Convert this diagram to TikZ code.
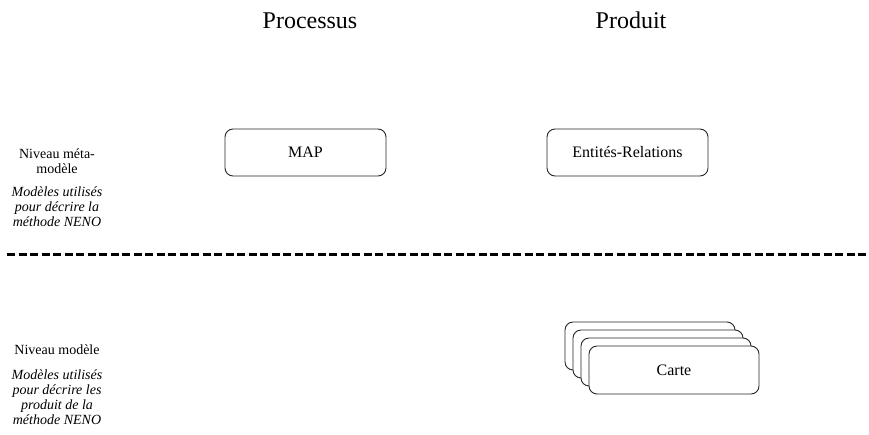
\documentclass[tikz,border=0pt]{standalone}
\usepackage{fontspec}
\setmainfont{Liberation Serif}
\begin{document}
\begin{tikzpicture}[x=1pt,y=-1pt,
  rbox/.style={draw=black!85, line width=0.9pt, rounded corners=8pt, fill=white,
    minimum width=161pt, minimum height=47pt, inner sep=0pt, font=\fontsize{16}{18}\selectfont},
  cbox/.style={rbox, minimum width=170pt, minimum height=48pt},
  head/.style={font=\fontsize{24}{26}\selectfont, anchor=base, inner sep=0pt},
  lvl/.style={font=\fontsize{14}{15.5}\selectfont, align=center, inner sep=0pt},
  lvlit/.style={font=\fontsize{14}{15}\selectfont\itshape, align=center, inner sep=0pt},
  sep/.style={line width=3pt, dash pattern=on 8pt off 3.5pt}]
\useasboundingbox (0,0) rectangle (869,434);
\node[head] (proc) at (310,28) {Processus};
\node[head] (prod) at (631,28) {Produit};
\node[rbox] (map) at (305.5,152.5) {MAP};
\node[rbox] (er) at (627.5,152.5) {Entités-Relations};
\node[lvl] (lm) at (57,161) {Niveau méta-\\modèle};
\node[lvlit] (lmd) at (57,207) {Modèles utilisés\\pour décrire la\\méthode NENO};
\coordinate (sepL) at (7,254);
\coordinate (sepR) at (869,254);
\draw[sep] (sepL) -- (sepR);
\node[lvl] (lmo) at (57,350) {Niveau modèle};
\node[lvlit] (lmod) at (57,397) {Modèles utilisés\\pour décrire les\\produit de la\\méthode NENO};
\node[cbox] (c4) at (650,346) {};
\node[cbox] (c3) at (658,354) {};
\node[cbox] (c2) at (666,362) {};
\node[cbox] (c1) at (674,370) {Carte};
\end{tikzpicture}
\end{document}
